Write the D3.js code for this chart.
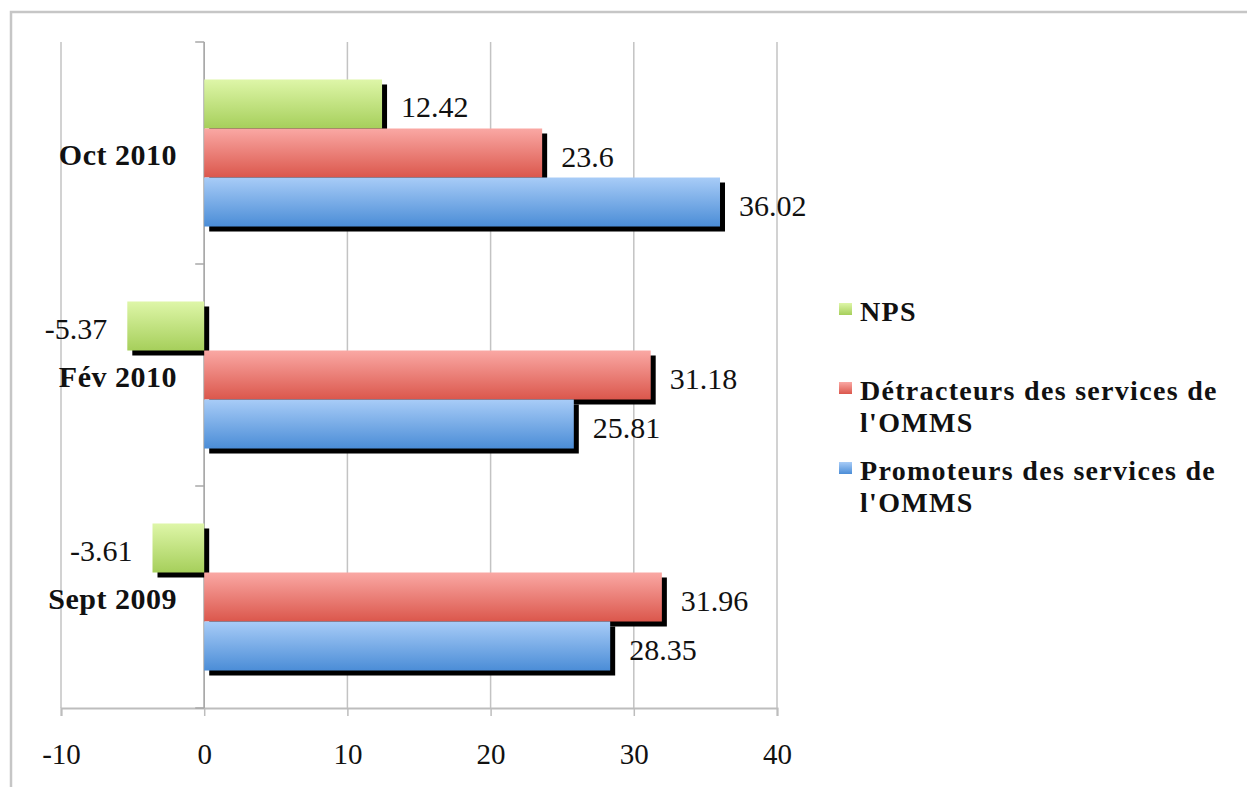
<!DOCTYPE html>
<html>
<head>
<meta charset="utf-8">
<script src="https://cdn.jsdelivr.net/npm/d3@7"></script>
<style>
  html, body { margin: 0; padding: 0; background: #fff; }
  svg { display: block; }
  .num { font-family: "Liberation Serif", serif; font-size: 30px; fill: #111; }
  .lab { font-family: "Liberation Serif", serif; font-weight: bold; fill: #111; }
</style>
</head>
<body>
<svg id="chart" width="1247" height="787"></svg>
<script>
// Periods, top to bottom
const categories = ["Oct 2010", "Fév 2010", "Sept 2009"];
// Series names (legend order, top to bottom within each group)
const seriesNames = ["NPS", "Détracteurs des services de l'OMMS", "Promoteurs des services de l'OMMS"];
const legendLines = [["NPS"], ["Détracteurs des services de", "l'OMMS"], ["Promoteurs des services de", "l'OMMS"]];
// Values per series, aligned with categories
const npsValues = [12.42, -5.37, -3.61];
const detracteursValues = [23.6, 31.18, 31.96];
const promoteursValues = [36.02, 25.81, 28.35];
const xTicks = [-10, 0, 10, 20, 30, 40];

const seriesValues = [npsValues, detracteursValues, promoteursValues];
const gradients = [
  ["#def6a8", "#a6cf5b"],
  ["#faa8a4", "#db574c"],
  ["#a8ccf7", "#4b8dd7"]
];

const svg = d3.select("#chart");
const defs = svg.append("defs");
gradients.forEach((g, i) => {
  const lg = defs.append("linearGradient")
    .attr("id", "grad" + i)
    .attr("x1", 0).attr("y1", 0).attr("x2", 0).attr("y2", 1);
  lg.append("stop").attr("offset", "0%").attr("stop-color", g[0]);
  lg.append("stop").attr("offset", "100%").attr("stop-color", g[1]);
});

// Outer chart frame
svg.append("rect")
  .attr("x", 11).attr("y", 12)
  .attr("width", 1260).attr("height", 800)
  .attr("fill", "none").attr("stroke", "#c6c6c6").attr("stroke-width", 2.5);

const x = d3.scaleLinear().domain([-10, 40]).range([61, 777]);
const y = d3.scaleBand().domain(categories).range([42, 708]);
const inner = d3.scaleBand().domain(d3.range(seriesNames.length))
  .range([0, y.bandwidth()]).paddingOuter(0.765);

// Vertical gridlines
svg.append("g").selectAll("line").data(xTicks).join("line")
  .attr("x1", d => x(d)).attr("x2", d => x(d))
  .attr("y1", y.range()[0]).attr("y2", y.range()[1])
  .attr("stroke", "#c3c3c3").attr("stroke-width", 1.5);

// Bottom axis
const xAxis = svg.append("g")
  .attr("transform", `translate(0,${y.range()[1]})`)
  .call(d3.axisBottom(x).tickValues(xTicks).tickSize(8).tickPadding(27).tickFormat(d => String(d)));
xAxis.select(".domain").attr("stroke", "#bdbdbd").attr("stroke-width", 2);
xAxis.selectAll(".tick line").attr("stroke", "#bdbdbd").attr("stroke-width", 1.5);
xAxis.selectAll(".tick text")
  .style("font-family", "'Liberation Serif', serif").style("font-size", "29px").attr("fill", "#111");

// Category axis at zero, ticks between groups
const boundaries = [y.range()[0]].concat(categories.map(c => y(c) + y.bandwidth()));
const yAxisG = svg.append("g");
yAxisG.append("line")
  .attr("x1", x(0)).attr("x2", x(0))
  .attr("y1", y.range()[0]).attr("y2", y.range()[1])
  .attr("stroke", "#a8a8a8").attr("stroke-width", 1.5);
yAxisG.selectAll("line.tk").data(boundaries).join("line").attr("class", "tk")
  .attr("x1", x(0) - 9).attr("x2", x(0))
  .attr("y1", d => d).attr("y2", d => d)
  .attr("stroke", "#a8a8a8").attr("stroke-width", 1.5);

// Bars: drop shadows first, then gradient bars
const barData = [];
seriesValues.forEach((vals, s) => {
  vals.forEach((v, c) => barData.push({ s, c, v, cat: categories[c] }));
});
const bx = d => Math.min(x(0), x(d.v));
const bw = d => Math.abs(x(d.v) - x(0));
const by = d => y(d.cat) + inner(d.s);
const bh = inner.bandwidth();

const barsG = svg.append("g");
seriesNames.forEach((name, s) => {
  const sd = barData.filter(d => d.s === s);
  barsG.append("g").selectAll("rect").data(sd).join("rect")
    .attr("x", d => bx(d) + 5).attr("y", d => by(d) + 5)
    .attr("width", bw).attr("height", bh)
    .attr("fill", "#000");
  barsG.append("g").selectAll("rect").data(sd).join("rect")
    .attr("x", bx).attr("y", by)
    .attr("width", bw).attr("height", bh)
    .attr("fill", `url(#grad${s})`);
});

// Value labels
svg.append("g").selectAll("text").data(barData).join("text")
  .attr("class", "num")
  .attr("x", d => d.v >= 0 ? x(d.v) + 19 : x(d.v) - 20)
  .attr("y", d => by(d) + bh / 2 + 3)
  .attr("dy", "0.35em")
  .attr("text-anchor", d => d.v >= 0 ? "start" : "end")
  .text(d => String(d.v));

// Category labels
svg.append("g").selectAll("text").data(categories).join("text")
  .attr("class", "lab")
  .style("font-size", "30px")
  .style("letter-spacing", "0.5px")
  .attr("x", 177)
  .attr("y", d => y(d) + y.bandwidth() / 2 + 1)
  .attr("dy", "0.35em")
  .attr("text-anchor", "end")
  .text(d => d);

// Legend
const legendTops = [321, 400, 480];
const legend = svg.append("g");
legendLines.forEach((lines, i) => {
  legend.append("rect")
    .attr("x", 839).attr("y", legendTops[i] - 18)
    .attr("width", 13).attr("height", 12)
    .attr("fill", `url(#grad${i})`);
  lines.forEach((t, j) => {
    legend.append("text")
      .attr("class", "lab")
      .style("font-size", "28px")
      .style("letter-spacing", "1.3px")
      .attr("x", 860)
      .attr("y", legendTops[i] + j * 32)
      .text(t);
  });
});
</script>
</body>
</html>
